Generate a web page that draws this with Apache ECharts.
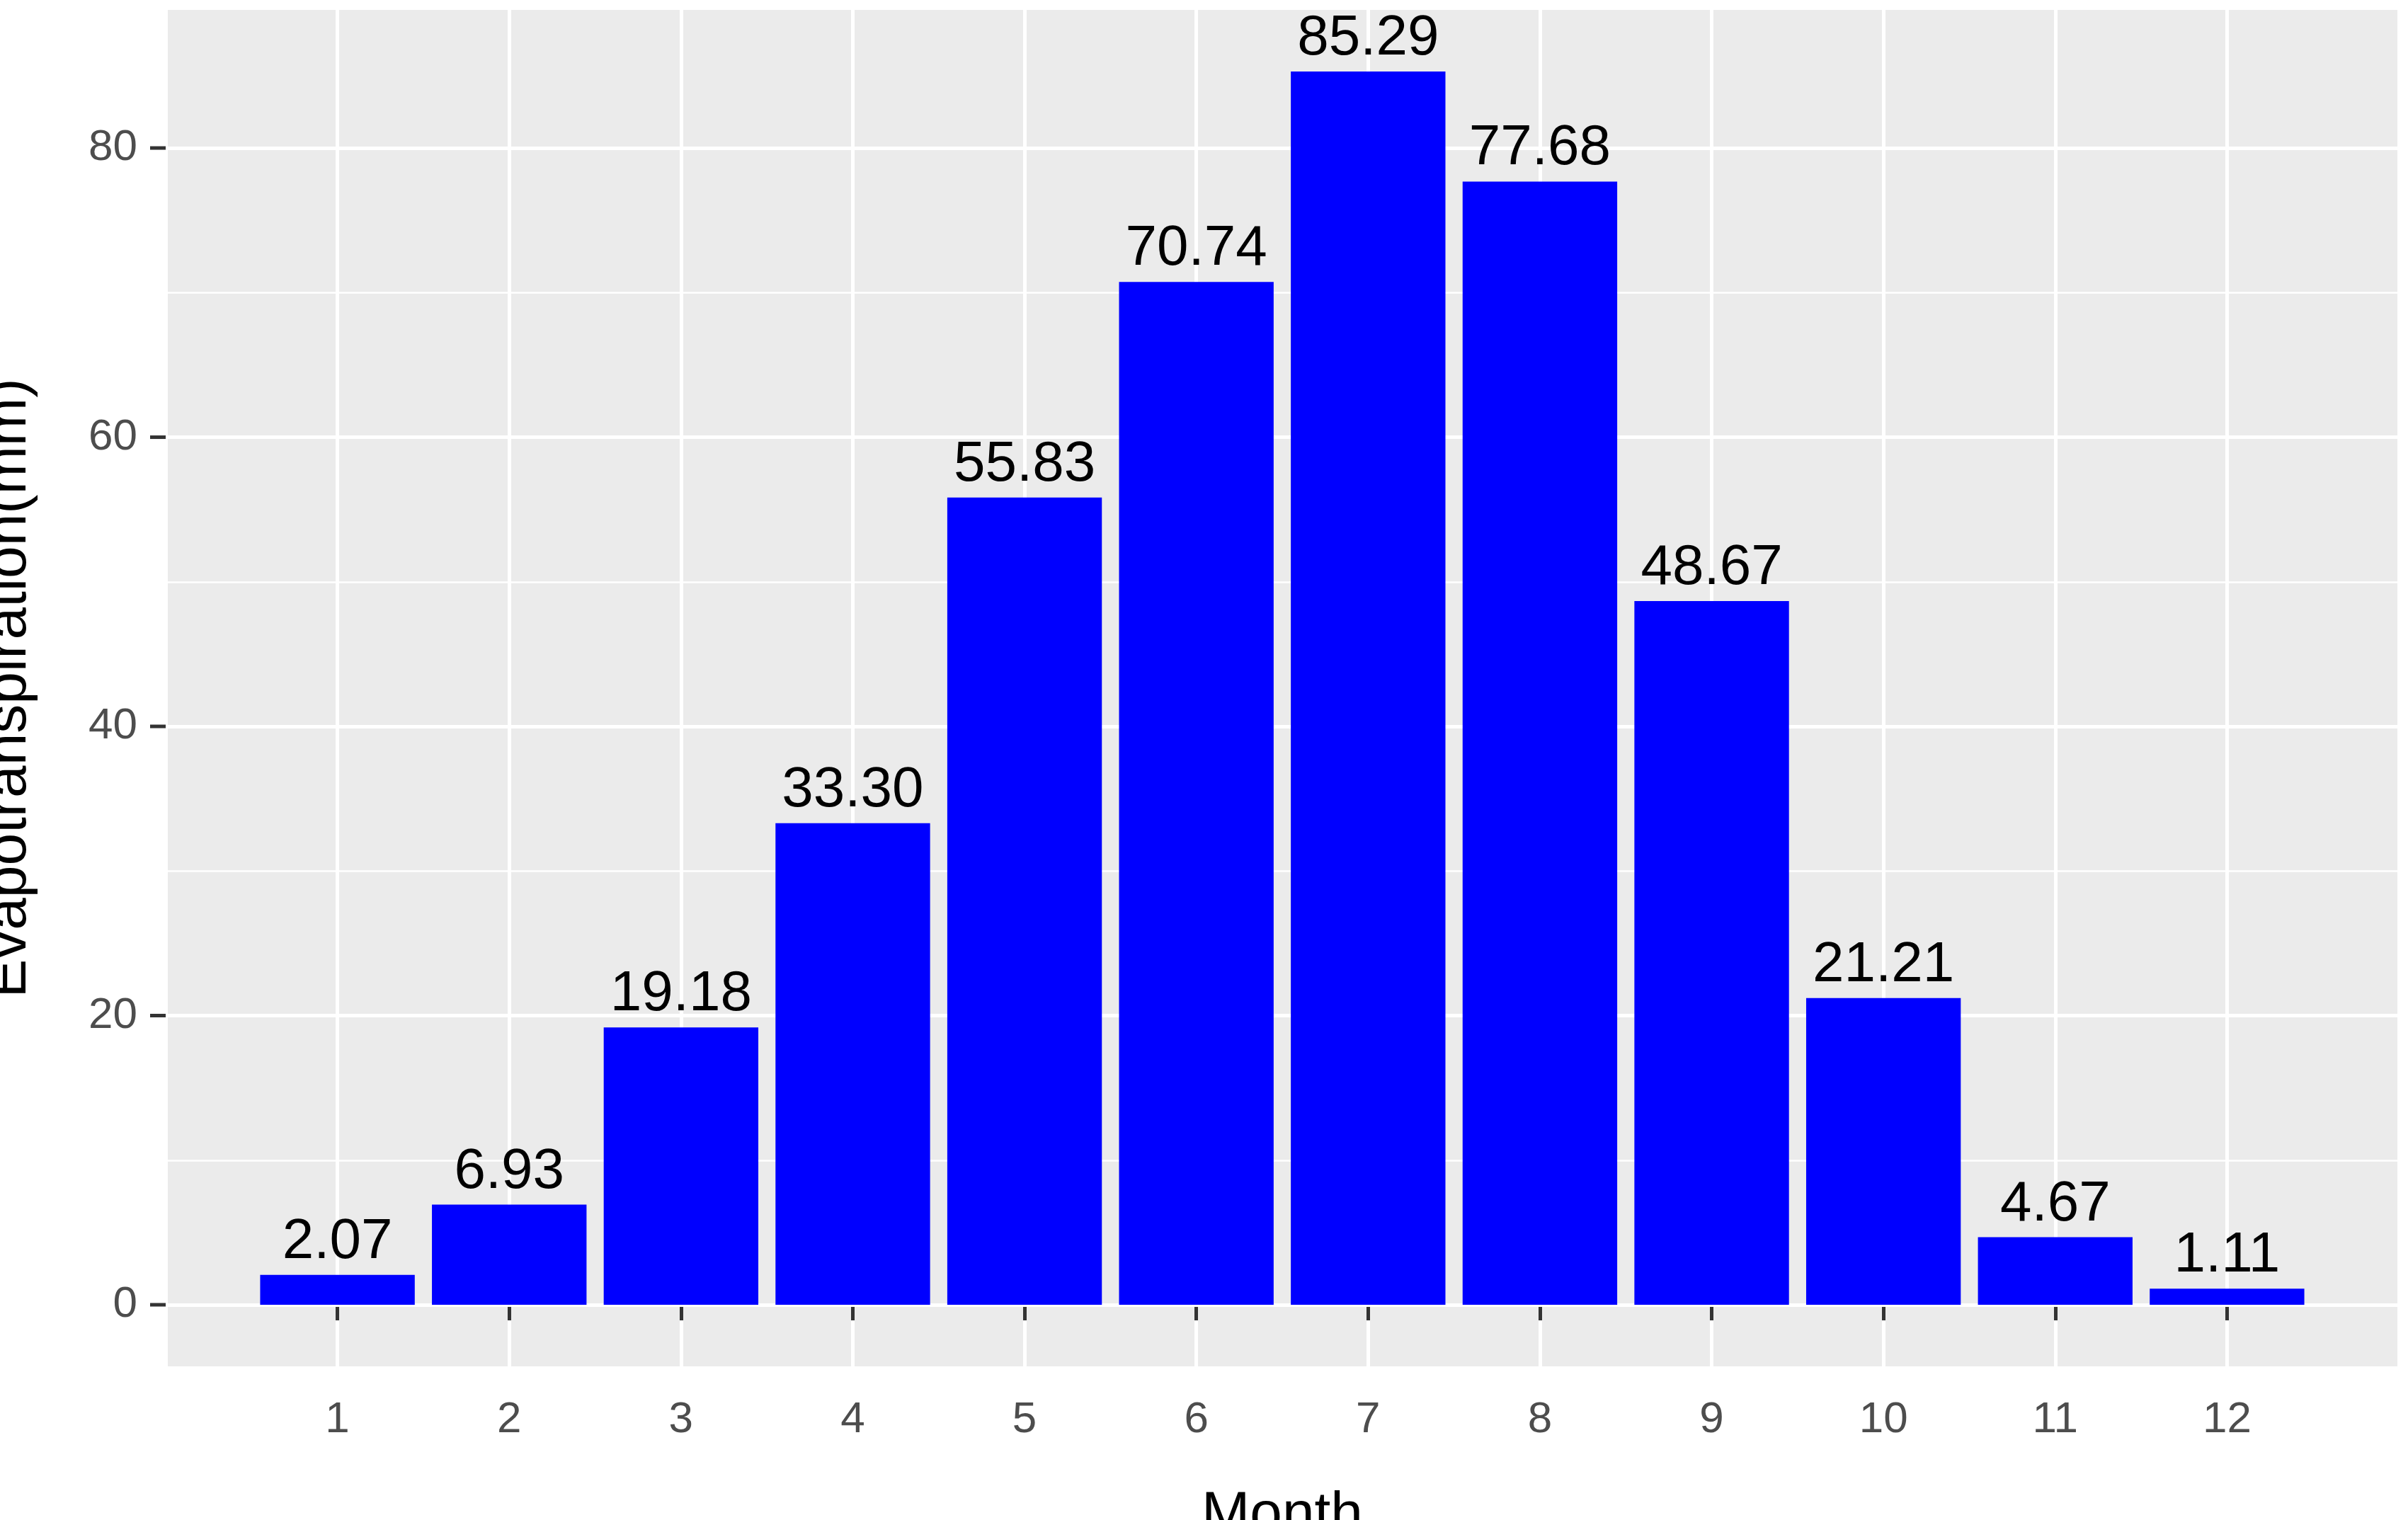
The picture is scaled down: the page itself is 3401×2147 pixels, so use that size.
<!DOCTYPE html>
<html lang="en">
<head>
    <meta charset="UTF-8">
    <title>Evapotranspiration</title>
    <script src="https://cdn.jsdelivr.net/npm/echarts@6/dist/echarts.min.js"></script>
</head>
<style>
    html, body { margin: 0; padding: 0; background: #fff; }
    #chart { width: 3401px; height: 2147px; }
</style>
<body>
<div id="chart"></div>
<script>
    // padded with blank categories at both ends to mimic ggplot's expansion
    let months = ['', '1', '2', '3', '4', '5', '6', '7', '8', '9', '10', '11', '12', '']
    let values = [null, 2.07, 6.93, 19.18, 33.30, 55.83, 70.74, 85.29, 77.68, 48.67, 21.21, 4.67, 1.11, null]
    let majorTicks = [0, 20, 40, 60, 80]
    let minorTicks = [10, 30, 50, 70]

    let gridLines = []
    majorTicks.forEach(v => gridLines.push({
        yAxis: v,
        lineStyle: {color: '#fff', width: 5, type: 'solid'},
        label: {
            show: true, position: 'start', distance: 0,
            formatter: '{a|' + v + '}{s|}{t|}',
            rich: {
                a: {color: '#4D4D4D', fontSize: 62},
                s: {width: 18},
                t: {width: 22, height: 5, backgroundColor: '#333'}
            }
        }
    }))
    minorTicks.forEach(v => gridLines.push({
        yAxis: v,
        lineStyle: {color: '#fff', width: 2.5, type: 'solid'},
        label: {show: false}
    }))

    let option = {
        animation: false,
        textStyle: {fontFamily: 'Liberation Sans, Arial, sans-serif'},
        grid: {
            left: 234, right: 13, top: 14, bottom: 217,
            outerBoundsMode: 'none', containLabel: false,
            backgroundColor: '#EBEBEB', show: true, borderWidth: 0
        },
        xAxis: {
            type: 'category',
            data: months,
            boundaryGap: false,
            name: 'Month',
            nameLocation: 'middle',
            nameGap: 170,
            nameTextStyle: {color: '#000', fontSize: 82},
            axisLine: {show: false},
            axisTick: {show: true, length: 22, lineStyle: {color: '#333', width: 5}, interval: (i) => i > 0 && i < 13},
            axisLabel: {color: '#4D4D4D', fontSize: 62, margin: 45, interval: 0},
            splitLine: {show: true, interval: 0, lineStyle: {color: '#fff', width: 5}}
        },
        yAxis: {
            type: 'value',
            min: -4.26,
            max: 89.55,
            name: 'Evapotranspiration(mm)',
            nameLocation: 'middle',
            nameGap: 180,
            nameTextStyle: {color: '#000', fontSize: 82},
            axisLine: {show: false},
            axisTick: {show: false},
            axisLabel: {show: false},
            splitLine: {show: false}
        },
        series: [
            {
                type: 'line',
                data: months.map(() => null),
                showSymbol: false,
                silent: true,
                zlevel: 0,
                markLine: {symbol: 'none', silent: true, animation: false, data: gridLines}
            },
            {
                type: 'bar',
                data: values,
                barWidth: '90%',
                zlevel: 1,
                itemStyle: {color: '#0000FF'},
                label: {
                    show: true,
                    position: 'top',
                    distance: 6,
                    color: '#000',
                    fontSize: 80,
                    formatter: p => p.value == null ? '' : p.value.toFixed(2)
                }
            }
        ]
    }

    let chart = echarts.init(document.getElementById('chart'))
    chart.setOption(option)
</script>
</body>
</html>
